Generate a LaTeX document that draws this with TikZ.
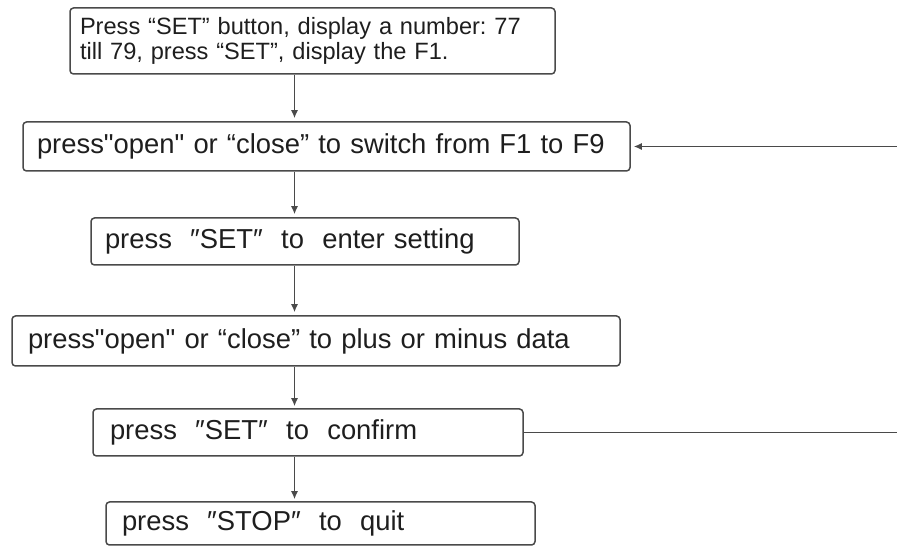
\documentclass[tikz,border=0pt]{standalone}
\usepackage{fontspec}
\setmainfont{Liberation Sans}
\usetikzlibrary{arrows.meta}
\definecolor{linegray}{HTML}{4A4A4A}
\definecolor{textgray}{HTML}{1E1E1E}
\newcommand{\boxfont}{\fontsize{27.4bp}{30bp}\selectfont}
\newcommand{\notefont}{\fontsize{23.6bp}{25.4bp}\selectfont}
\frenchspacing
\begin{document}
\begin{tikzpicture}[>={Latex[length=8bp,width=7bp]},line join=bevel,
  stepbox/.style={draw=linegray,line width=1.5bp,rounded corners=3.5bp,inner ysep=0bp,align=left,text=textgray,font=\boxfont},
  flow/.style={linegray,line width=1.4bp}]
%%
\useasboundingbox (0bp,0bp) rectangle (897bp,546bp);
\coordinate (spine) at (294.5bp,0bp);
\coordinate (edge) at (897bp,0bp);
%
\node (node_0) at (312.5bp,505bp) [stepbox,font=\notefont,inner xsep=10bp,text width=465bp,minimum height=66bp] {Press “SET” button, display a number: 77\\till 79, press “SET”, display the F1.};
  \node (node_1) at (326.5bp,399.5bp) [stepbox,inner xsep=14bp,text width=579bp,minimum height=49bp] {press\textquotedbl open\textquotedbl{} or “close” to switch from F1 to F9};
  \node (node_2) at (305bp,304.5bp) [stepbox,inner xsep=14bp,text width=400bp,minimum height=47bp] {press\ \ ″SET″\ \ to\ \ enter setting};
  \node (node_3) at (316bp,205bp) [stepbox,inner xsep=16bp,text width=576bp,minimum height=50bp] {press\textquotedbl open\textquotedbl{} or “close” to plus or minus data};
  \node (node_4) at (308bp,113.5bp) [stepbox,inner xsep=17bp,text width=396bp,minimum height=47bp] {press\ \ ″SET″\ \ to\ \ confirm};
  \node (node_5) at (320.5bp,22.5bp) [stepbox,inner xsep=16bp,text width=397bp,minimum height=43bp] {press\ \ ″STOP″\ \ to\ \ quit};
%
  \draw [flow,->,shorten >=3bp] (node_0.south -| spine) -- (node_1.north -| spine);
  \draw [flow,->,shorten >=3bp] (node_1.south -| spine) -- (node_2.north -| spine);
  \draw [flow,->,shorten >=3bp] (node_2.south -| spine) -- (node_3.north -| spine);
  \draw [flow,->,shorten >=2bp] (node_3.south -| spine) -- (node_4.north -| spine);
  \draw [flow,->,shorten >=2bp] (node_4.south -| spine) -- (node_5.north -| spine);
  \draw [flow,->,shorten >=3bp] (node_1.east -| edge) -- (node_1.east);
  \draw [flow] (node_4.east) -- (node_4.east -| edge);
%
\end{tikzpicture}
\end{document}
